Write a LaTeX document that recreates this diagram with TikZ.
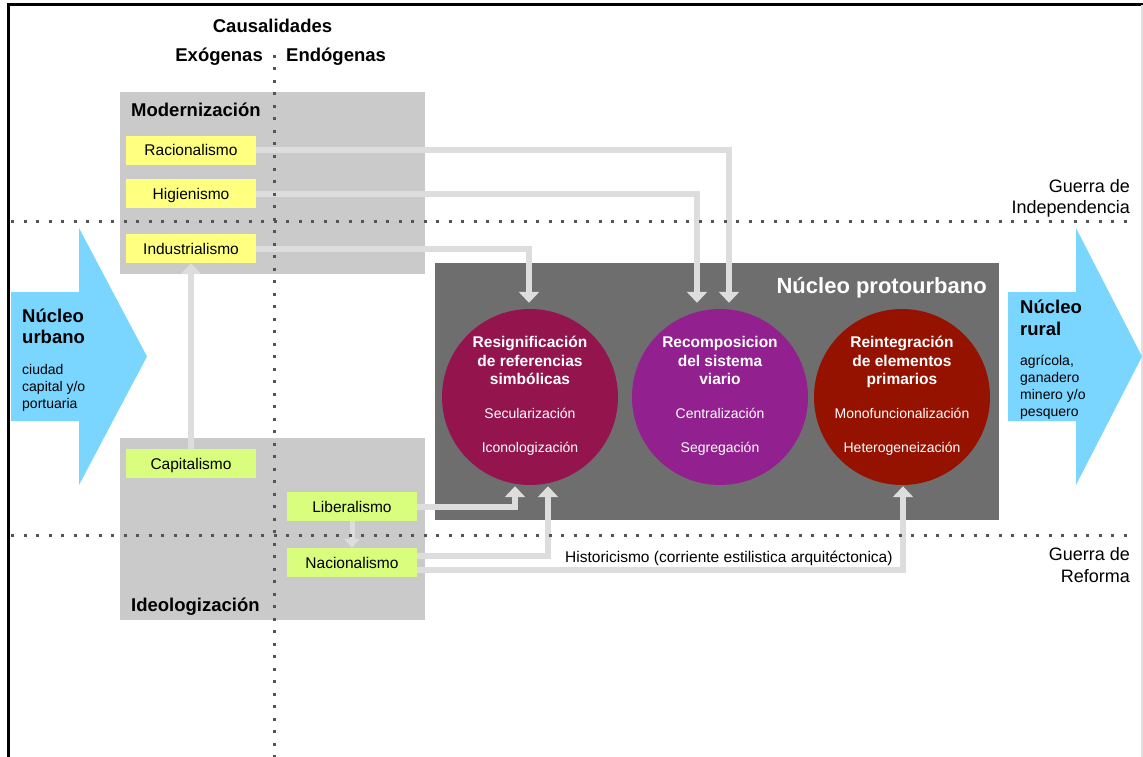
\documentclass[tikz,border=0pt]{standalone}
\usepackage{fontspec}
\setmainfont{Liberation Sans}
\usetikzlibrary{arrows.meta,calc}
\definecolor{boxgray}{HTML}{CACACA}
\definecolor{ylw}{HTML}{FFFF80}
\definecolor{grn}{HTML}{D9FD7C}
\definecolor{conngray}{HTML}{DDDDDD}
\definecolor{dotgray}{HTML}{555555}
\definecolor{darkbox}{HTML}{6E6E6E}
\definecolor{cone}{HTML}{94154E}
\definecolor{ctwo}{HTML}{93208F}
\definecolor{cthree}{HTML}{961200}
\definecolor{skyb}{HTML}{7AD5FF}
\definecolor{rightline}{HTML}{E0E0E0}
\begin{document}
\begin{tikzpicture}[x=1pt,y=-1pt,
  hdr/.style={inner sep=0pt, font=\fontsize{18.5}{21}\selectfont\bfseries},
  labbox/.style={fill=ylw, minimum width=130pt, minimum height=29pt, inner sep=0pt,
     font=\fontsize{15.5}{18}\selectfont, text height=11pt, text depth=0pt},
  grnbox/.style={labbox, fill=grn},
  circ/.style={circle, minimum size=176pt, inner sep=0pt, draw=none},
  cbold/.style={inner sep=0pt, align=center, text=white, font=\fontsize{15.5}{18.5}\selectfont\bfseries},
  creg/.style={inner sep=0pt, align=center, text=white, font=\fontsize{14}{34}\selectfont},
  conn/.style={draw=conngray, line width=6pt, -{Triangle[width=20pt,length=11pt]}},
  connsmall/.style={draw=conngray, line width=5pt, -{Triangle[width=15pt,length=9pt]}},
  dotline/.style={draw=dotgray, line width=3pt, dash pattern=on 3pt off 9.5pt},
  plain/.style={inner sep=0pt}
]
\useasboundingbox (0,0) rectangle (1143,757);
% frame
\draw[line width=3pt] (8,757) -- (8,5) -- (1143,5);
\draw[rightline, line width=1.5pt] (1142,5) -- (1142,757);

% gray boxes
\fill[boxgray] (120,92) rectangle (425,274);
\fill[boxgray] (120,438) rectangle (425,620);
% dark box
\fill[darkbox] (435,263) rectangle (999,520);

% circles
\node[circ, fill=cone] (c1) at (530,397) {};
\node[circ, fill=ctwo] (c2) at (720,397) {};
\node[circ, fill=cthree] (c3) at (902,397) {};

% blue arrows
\fill[skyb] (11,292) -- (79,292) -- (79,228) -- (147,356.5) -- (79,485) -- (79,421) -- (11,421) -- cycle;
\fill[skyb] (1008,292) -- (1076,292) -- (1076,228) -- (1142,356.5) -- (1076,485) -- (1076,421) -- (1008,421) -- cycle;

% small boxes
\node[labbox] (rac) at (191,150.5) {Racionalismo};
\node[labbox] (hig) at (191,193.5) {Higienismo};
\node[labbox] (ind) at (191,248.5) {Industrialismo};
\node[grnbox] (cap) at (191,463.5) {Capitalismo};
\node[grnbox] (lib) at (352,506.5) {Liberalismo};
\node[grnbox] (nac) at (352,562.5) {Nacionalismo};

% connectors
\draw[conn] (rac.east) -| ($(c2.north)+(9,-6)$);
\draw[conn] (hig.east) -| ($(c2.north)+(-23,-6)$);
\draw[conn] (ind.east) -| ($(c1.north)+(-1,-6)$);
\draw[conn] (lib.east) -| ($(c1.south)+(-15,1)$);
\draw[conn] ([yshift=6.5pt]nac.east) -| ($(c1.south)+(18,1)$);
\draw[conn] ([yshift=-7.5pt]nac.east) -| ($(c3.south)+(1,1)$);
\draw[conn] (cap.north) -- (ind.south);
\draw[connsmall] (lib.south) -- (nac.north);

% dotted lines
\draw[dotline] (274,55) -- (274,757);
\draw[dotline] (11,221) -- (1135,221);
\draw[dotline] (11,535) -- (1135,535);

% headers
\node[hdr, anchor=base] (caus) at (272.5,33) {Causalidades};
\node[hdr, anchor=base east] (exo) at (263,62) {Exógenas};
\node[hdr, anchor=base west] (endo) at (286,62) {Endógenas};
\node[hdr, anchor=base west] (mod) at (131,117) {Modernización};
\node[hdr, anchor=base west] (ideo) at (131,611) {Ideologización};

% title
\node[plain, anchor=base east, text=white, font=\fontsize{22}{26}\selectfont\bfseries] (tit) at (987,293) {Núcleo protourbano};

% circle texts (base anchor = last line baseline)
\node[cbold, anchor=base] (c1b) at ($(c1)+(0,-12.5)$) {Resignificación\\de referencias\\simbólicas};
\node[creg, anchor=base] (c1r) at ($(c1)+(0,55)$) {Secularización\\Iconologización};
\node[cbold, anchor=base] (c2b) at ($(c2)+(0,-12.5)$) {Recomposicion\\del sistema\\viario};
\node[creg, anchor=base] (c2r) at ($(c2)+(0,55)$) {Centralización\\Segregación};
\node[cbold, anchor=base] (c3b) at ($(c3)+(0,-12.5)$) {Reintegración\\de elementos\\primarios};
\node[creg, anchor=base] (c3r) at ($(c3)+(0,55)$) {Monofuncionalización\\Heterogeneización};

% historicismo
\node[plain, anchor=base west, font=\fontsize{15.5}{18}\selectfont] (hist) at (565,562) {Historicismo (corriente estilistica arquitéctonica)};

% blue arrow texts
\node[plain, anchor=base west, align=left, font=\fontsize{18.5}{21}\selectfont\bfseries] (nub) at (22,343) {Núcleo\\urbano};
\node[plain, anchor=base west, align=left, font=\fontsize{14}{17}\selectfont] (nus) at (22,408) {ciudad\\capital y/o\\portuaria};
\node[plain, anchor=base west, align=left, font=\fontsize{18.5}{22}\selectfont\bfseries] (nrb) at (1020,335) {Núcleo\\rural};
\node[plain, anchor=base west, align=left, font=\fontsize{14}{16.7}\selectfont] (nrs) at (1020,416) {agrícola,\\ganadero\\minero y/o\\pesquero};

% guerra labels
\node[plain, anchor=base east, align=right, font=\fontsize{18}{21}\selectfont] (gi) at (1130,213) {Guerra de\\Independencia};
\node[plain, anchor=base east, align=right, font=\fontsize{18}{22}\selectfont] (gr) at (1130,582) {Guerra de\\Reforma};
\end{tikzpicture}
\end{document}
